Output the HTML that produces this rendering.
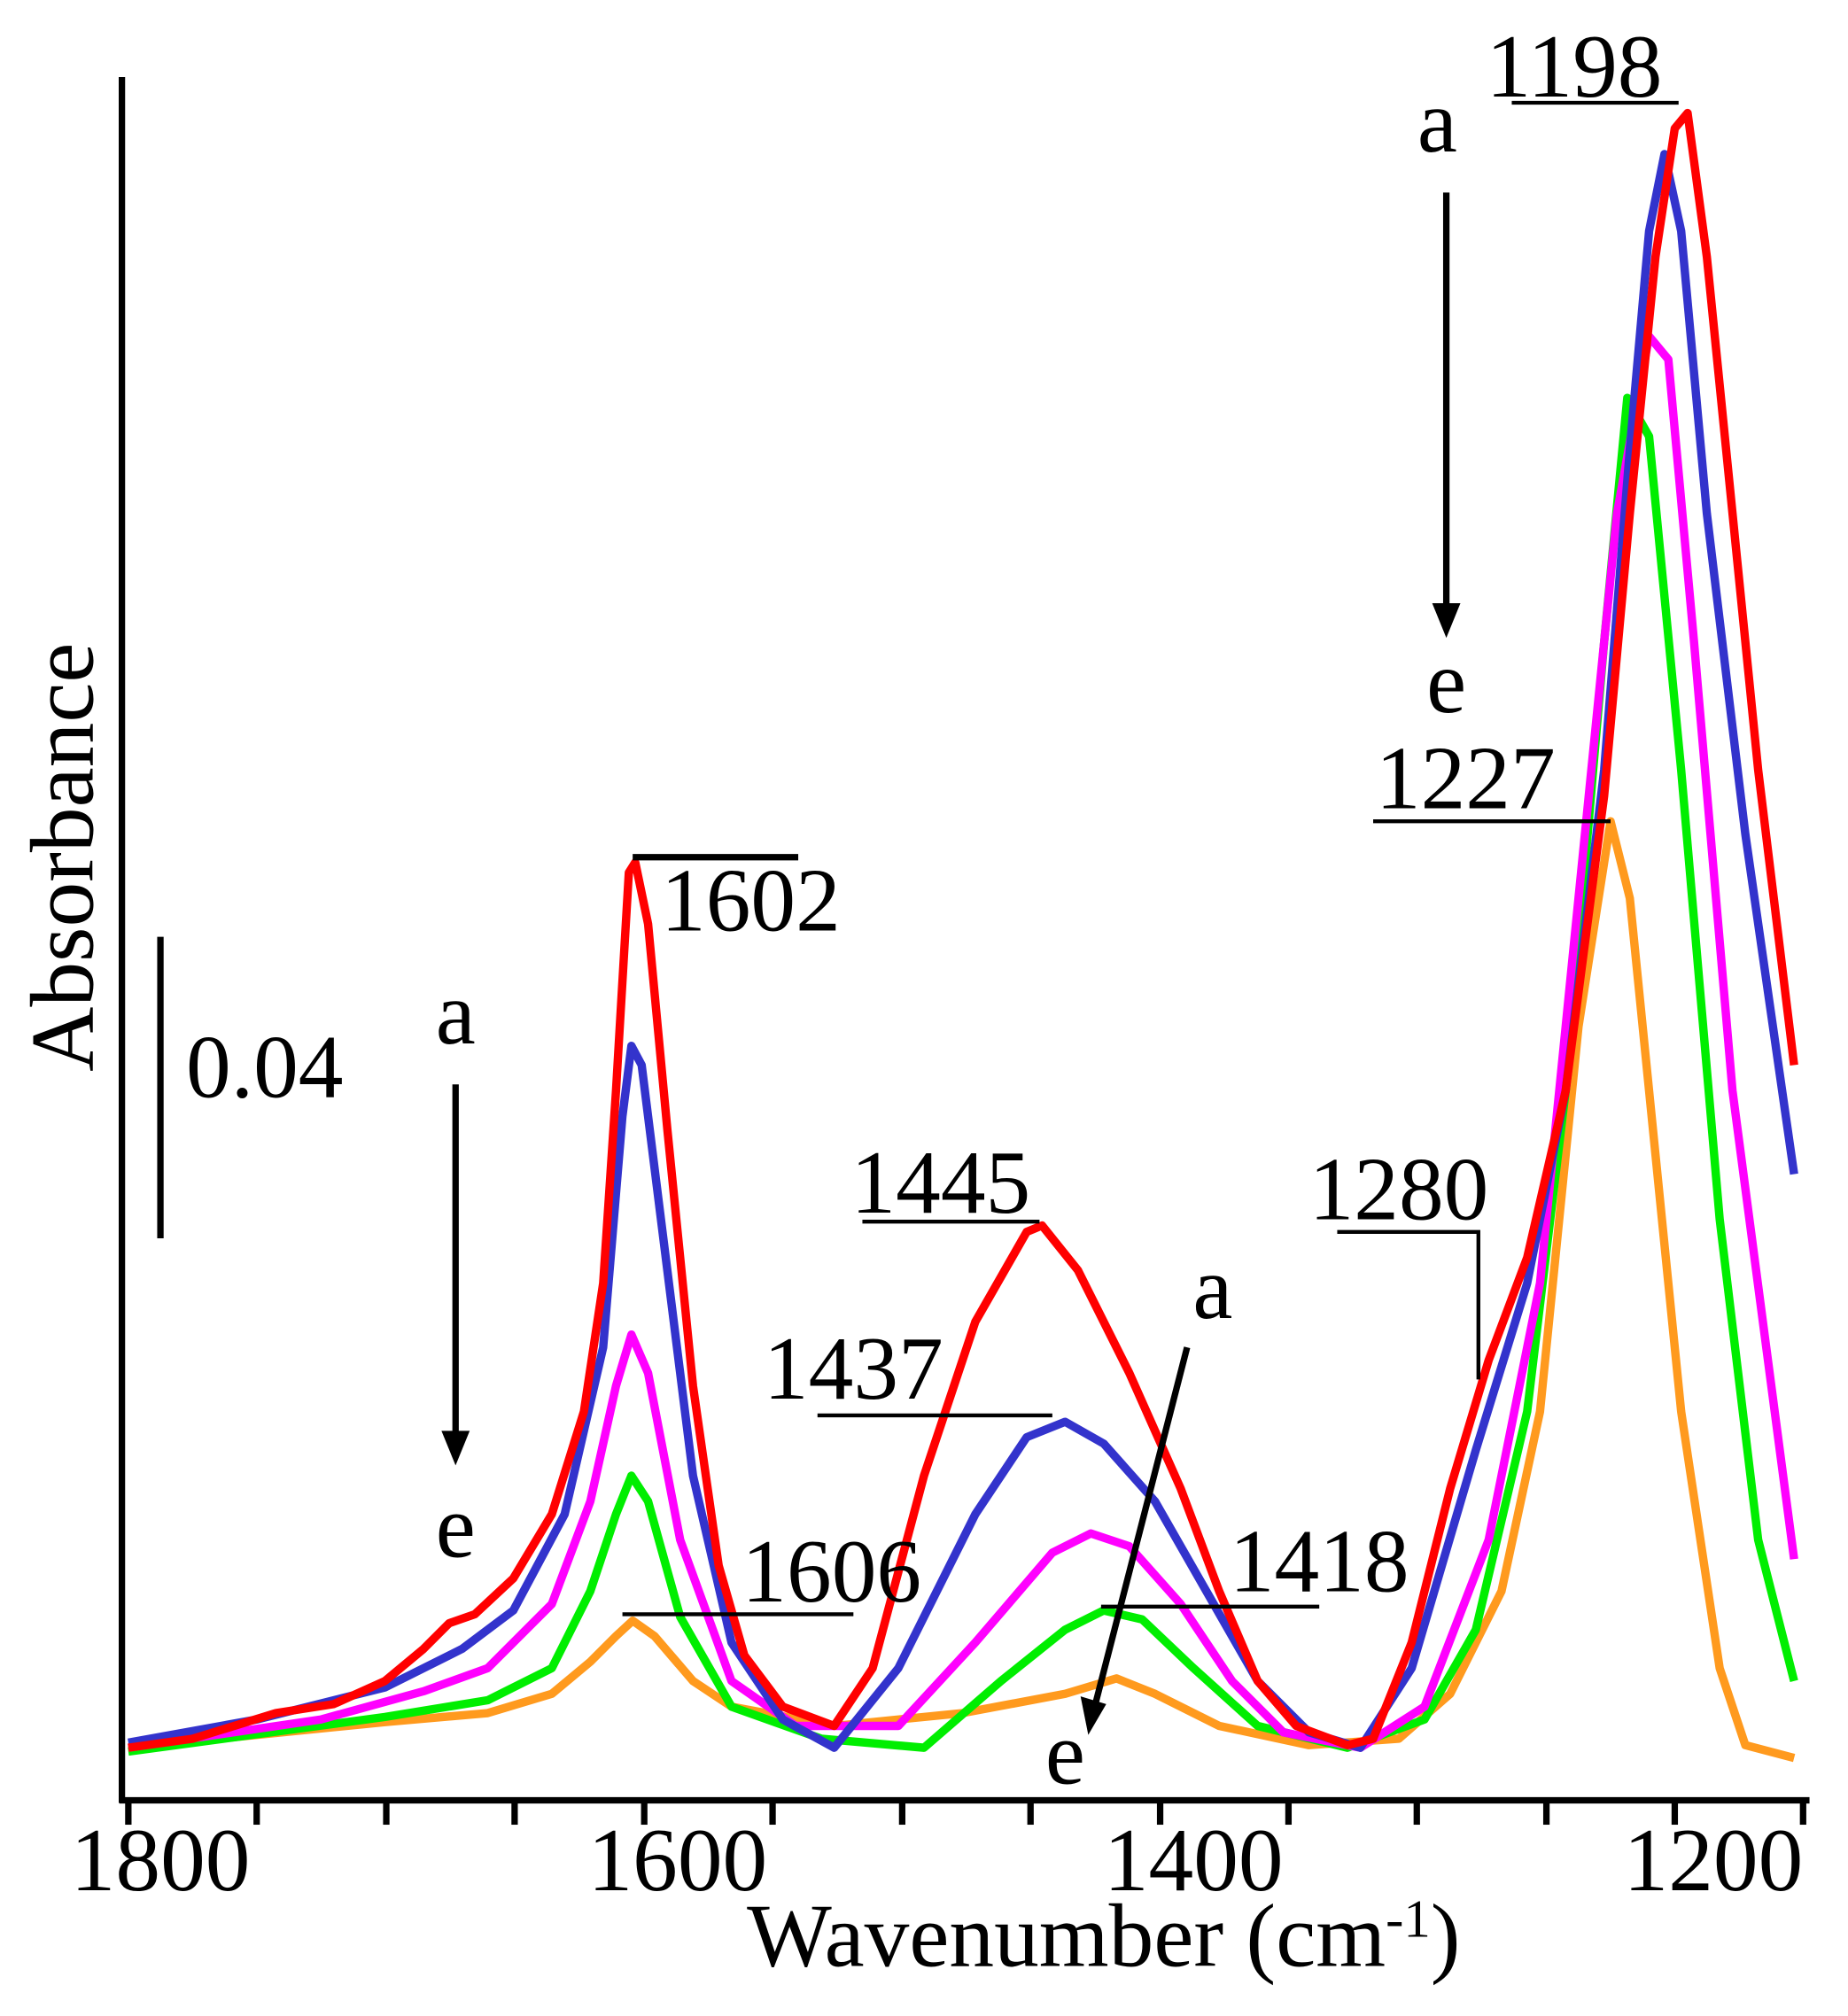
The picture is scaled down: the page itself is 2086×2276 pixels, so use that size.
<!DOCTYPE html>
<html><head><style>html,body{margin:0;padding:0;background:#fff}svg{display:block}</style></head>
<body>
<svg width="2086" height="2276" viewBox="0 0 1440 1571" xmlns="http://www.w3.org/2000/svg" font-family="Liberation Serif, serif">
<rect width="1440" height="1571" fill="#fff"/>
<g stroke="#000" stroke-width="5" fill="none">
<line x1="95" y1="60" x2="95" y2="1405"/>
<line x1="93" y1="1403" x2="1410" y2="1403"/>
<line x1="125" y1="730" x2="125" y2="965"/>
<line x1="100" y1="1403" x2="100" y2="1422"/><line x1="200" y1="1403" x2="200" y2="1422"/><line x1="301" y1="1403" x2="301" y2="1422"/><line x1="401" y1="1403" x2="401" y2="1422"/><line x1="502" y1="1403" x2="502" y2="1422"/><line x1="602" y1="1403" x2="602" y2="1422"/><line x1="703" y1="1403" x2="703" y2="1422"/><line x1="803" y1="1403" x2="803" y2="1422"/><line x1="904" y1="1403" x2="904" y2="1422"/><line x1="1004" y1="1403" x2="1004" y2="1422"/><line x1="1104" y1="1403" x2="1104" y2="1422"/><line x1="1205" y1="1403" x2="1205" y2="1422"/><line x1="1305" y1="1403" x2="1305" y2="1422"/><line x1="1405" y1="1403" x2="1405" y2="1422"/>
</g>
<g fill="none" stroke-width="6.5" stroke-linejoin="round">
<polyline stroke="#ff9a1e" points="100,1362 300,1342 380,1335 430,1320 460,1295 480,1275 493,1263 510,1275 540,1310 570,1330 650,1345 750,1335 830,1320 870,1308 900,1320 950,1345 1020,1360 1090,1355 1130,1320 1170,1240 1200,1100 1230,800 1255,640 1270,700 1290,900 1310,1100 1340,1300 1360,1360 1398,1370"/>
<polyline stroke="#00ee00" points="100,1365 300,1338 380,1325 430,1300 460,1240 480,1180 492,1150 505,1170 530,1260 570,1330 640,1355 720,1362 780,1310 830,1270 860,1255 890,1262 930,1300 980,1345 1050,1362 1110,1340 1150,1270 1190,1100 1220,850 1250,500 1268,310 1285,340 1310,600 1340,950 1370,1200 1398,1310"/>
<polyline stroke="#ff00ff" points="100,1362 250,1340 330,1318 380,1300 430,1250 460,1170 480,1080 492,1040 505,1070 530,1200 570,1310 620,1345 700,1345 760,1280 820,1210 850,1195 880,1205 920,1250 960,1310 1000,1350 1060,1362 1110,1330 1160,1200 1200,1000 1230,700 1260,400 1285,262 1300,280 1320,500 1350,850 1398,1215"/>
<polyline stroke="#3333cc" points="100,1358 200,1340 300,1315 360,1285 400,1255 440,1180 470,1050 485,870 492,815 500,830 515,950 540,1150 570,1280 610,1340 650,1362 700,1300 760,1180 800,1120 830,1108 860,1125 900,1170 940,1240 980,1310 1020,1350 1060,1362 1100,1300 1150,1130 1190,1000 1220,850 1250,600 1270,350 1285,180 1297,120 1310,180 1330,400 1360,650 1398,915"/>
<polyline stroke="#ff0000" points="100,1362 150,1355 215,1335 260,1328 300,1310 330,1285 350,1265 370,1258 400,1230 430,1180 455,1100 470,1000 480,850 490,680 495,672 505,720 520,880 540,1080 560,1220 580,1290 610,1330 650,1345 680,1300 720,1150 760,1030 800,960 812,955 840,990 880,1070 920,1160 950,1240 980,1310 1010,1345 1050,1360 1070,1355 1100,1280 1130,1160 1160,1060 1190,980 1220,850 1250,620 1270,400 1290,200 1305,100 1315,88 1330,200 1350,400 1370,600 1398,830"/>
</g>
<g stroke="#000" stroke-width="3" fill="none">
<line x1="1178" y1="80" x2="1308" y2="80"/>
<line x1="1070" y1="640" x2="1255" y2="640"/>
<line x1="493" y1="668" x2="622" y2="668" stroke-width="5"/>
<line x1="672" y1="952" x2="810" y2="952"/>
<line x1="637" y1="1103" x2="820" y2="1103"/>
<line x1="858" y1="1252" x2="1028" y2="1252"/>
<line x1="485" y1="1258" x2="665" y2="1258"/>
<polyline points="1042,960 1152,960 1152,1075"/>
<line x1="1127" y1="150" x2="1127" y2="475" stroke-width="5"/>
<line x1="355" y1="845" x2="355" y2="1120" stroke-width="5"/>
<line x1="925" y1="1050" x2="853" y2="1330" stroke-width="5"/>
</g>
<g fill="#000">
<polygon points="1116,470 1138,470 1127,497"/>
<polygon points="344,1115 366,1115 355,1142"/>
<polygon points="842,1322 862,1328 848,1352"/>
</g>
<g font-size="70" fill="#000">
<text x="1158" y="75">1198</text>
<text x="1120" y="118" text-anchor="middle">a</text>
<text x="1127" y="555" text-anchor="middle">e</text>
<text x="1072" y="630">1227</text>
<text x="515" y="725">1602</text>
<text x="355" y="813" text-anchor="middle">a</text>
<text x="355" y="1213" text-anchor="middle">e</text>
<text x="663" y="945">1445</text>
<text x="595" y="1090">1437</text>
<text x="945" y="1027" text-anchor="middle">a</text>
<text x="830" y="1390" text-anchor="middle">e</text>
<text x="958" y="1240">1418</text>
<text x="578" y="1248">1606</text>
<text x="1020" y="950">1280</text>
<text x="145" y="855">0.04</text>
<text x="125" y="1473" text-anchor="middle">1800</text>
<text x="528" y="1473" text-anchor="middle">1600</text>
<text x="930" y="1473" text-anchor="middle">1400</text>
<text x="1335" y="1473" text-anchor="middle">1200</text>
<text x="860" y="1532" text-anchor="middle">Wavenumber (cm<tspan baseline-shift="super" font-size="42">-1</tspan>)</text>
<text transform="translate(72,668) rotate(-90)" text-anchor="middle">Absorbance</text>
</g>
</svg>
</body></html>
